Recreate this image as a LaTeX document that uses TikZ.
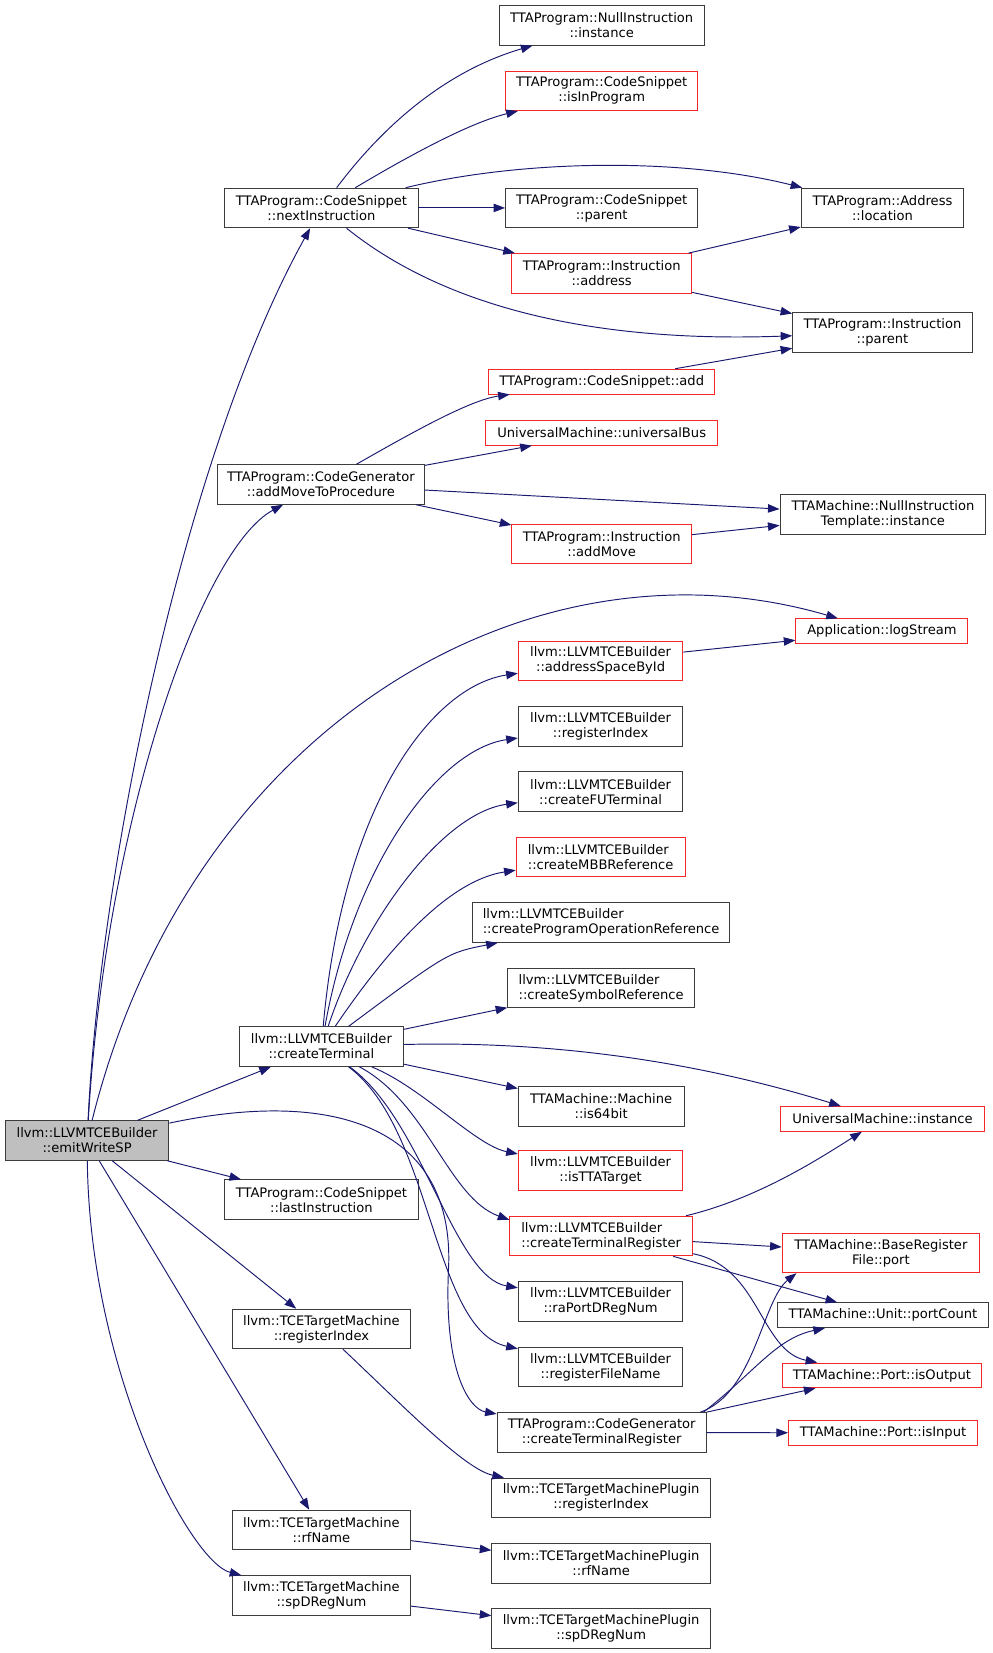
\documentclass[tikz,border=0pt]{standalone}
\usepackage{fontspec}
\setmainfont{DejaVu Sans}
\usetikzlibrary{arrows.meta}

\definecolor{edgeblue}{RGB}{25,25,112}
\definecolor{boxred}{RGB}{245,40,40}
\definecolor{boxgrey}{RGB}{60,60,60}
\definecolor{rootgrey}{RGB}{191,191,191}

\tikzset{
  fn/.style={draw=boxgrey, line width=0.9pt, fill=white, inner sep=0pt,
    minimum height=37.5pt, align=center, font=\fontsize{12.4}{14.2}\selectfont},
  fnred/.style={fn, draw=boxred},
  fnroot/.style={fn, fill=rootgrey},
  one/.style={minimum height=23.5pt},
  lft/.style={align=left},
  call/.style={draw=edgeblue, line width=0.9pt, -{Triangle[length=11pt,width=8pt]}}
}

\begin{document}
\begin{tikzpicture}[x=1pt,y=-1pt]

\pgfmathsetmacro{\colA}{304.5}
\pgfmathsetmacro{\colB}{569.5}
\pgfmathsetmacro{\colC}{836}

\useasboundingbox[fill=white] (0,0) rectangle (940,1566);

% caller
\node[fnroot, minimum width=155pt] (emit) at (82.5,1080.5) {llvm::LLVMTCEBuilder\\::emitWriteSP};

% first level
\node[fn, minimum width=183pt] (next) at (\colA,197) {TTAProgram::CodeSnippet\\::nextInstruction};
\node[fn, minimum width=196pt] (addMTP) at (304,459) {TTAProgram::CodeGenerator\\::addMoveToProcedure};
\node[fn, minimum width=155pt] (cterm) at (\colA,991.5) {llvm::LLVMTCEBuilder\\::createTerminal};
\node[fn, minimum width=183pt] (last) at (\colA,1136.5) {TTAProgram::CodeSnippet\\::lastInstruction};
\node[fn, minimum width=169pt] (tceRI) at (\colA,1259) {llvm::TCETargetMachine\\::registerIndex};
\node[fn, minimum width=169pt] (tceRF) at (\colA,1449.5) {llvm::TCETargetMachine\\::rfName};
\node[fn, minimum width=169pt] (tceSP) at (\colA,1511.5) {llvm::TCETargetMachine\\::spDRegNum};

% second level
\node[fn, minimum width=194pt] (nullInst) at (570,24) {TTAProgram::NullInstruction\\::instance};
\node[fnred, minimum width=182pt] (isInProg) at (570,86) {TTAProgram::CodeSnippet\\::isInProgram};
\node[fn, minimum width=182pt] (csParent) at (570,197) {TTAProgram::CodeSnippet\\::parent};
\node[fnred, minimum width=170pt] (instAddr) at (570,259) {TTAProgram::Instruction\\::address};
\node[fnred, one, minimum width=214pt] (csAdd) at (570,361.5) {TTAProgram::CodeSnippet::add};
\node[fnred, one, minimum width=220pt] (uBus) at (570,410) {UniversalMachine::universalBus};
\node[fnred, minimum width=170pt] (addMove) at (570,515.5) {TTAProgram::Instruction\\::addMove};
\node[fnred, minimum width=156pt] (asById) at (569,626) {llvm::LLVMTCEBuilder\\::addressSpaceById};
\node[fn, minimum width=156pt] (llvmRI) at (569,688) {llvm::LLVMTCEBuilder\\::registerIndex};
\node[fn, minimum width=156pt] (fuTerm) at (569,750) {llvm::LLVMTCEBuilder\\::createFUTerminal};
\node[fnred, lft, minimum width=160pt] (mbbRef) at (569,812) {llvm::LLVMTCEBuilder\\::createMBBReference};
\node[fn, lft, minimum width=243pt] (poRef) at (\colB,874) {llvm::LLVMTCEBuilder\\::createProgramOperationReference};
\node[fn, lft, minimum width=177pt] (symRef) at (\colB,936) {llvm::LLVMTCEBuilder\\::createSymbolReference};
\node[fn, minimum width=157pt] (is64) at (\colB,1048) {TTAMachine::Machine\\::is64bit};
\node[fnred, minimum width=156pt] (isTTA) at (569,1109) {llvm::LLVMTCEBuilder\\::isTTATarget};
\node[fnred, lft, minimum width=173pt] (ctReg) at (\colB,1171) {llvm::LLVMTCEBuilder\\::createTerminalRegister};
\node[fn, minimum width=156pt] (raPort) at (569,1233) {llvm::LLVMTCEBuilder\\::raPortDRegNum};
\node[fn, minimum width=156pt] (rfFile) at (569,1295) {llvm::LLVMTCEBuilder\\::registerFileName};
\node[fn, minimum width=198pt] (cgReg) at (570,1357) {TTAProgram::CodeGenerator\\::createTerminalRegister};
\node[fn, minimum width=207pt] (plRI) at (\colB,1419) {llvm::TCETargetMachinePlugin\\::registerIndex};
\node[fn, minimum width=207pt] (plRF) at (\colB,1481) {llvm::TCETargetMachinePlugin\\::rfName};
\node[fn, minimum width=207pt] (plSP) at (\colB,1543) {llvm::TCETargetMachinePlugin\\::spDRegNum};

% third level
\node[fn, minimum width=154pt] (addrLoc) at (\colC,197) {TTAProgram::Address\\::location};
\node[fn, minimum width=170pt] (instParent) at (\colC,315) {TTAProgram::Instruction\\::parent};
\node[fn, minimum width=195pt] (nitInst) at (836.5,487.5) {TTAMachine::NullInstruction\\Template::instance};
\node[fnred, one, minimum width=163pt] (logStream) at (835.5,598) {Application::logStream};
\node[fnred, one, minimum width=194pt] (umInst) at (\colC,1060) {UniversalMachine::instance};
\node[fnred, minimum width=187pt] (brfPort) at (834.5,1187) {TTAMachine::BaseRegister\\File::port};
\node[fn, one, minimum width=199pt] (portCount) at (836.5,1246) {TTAMachine::Unit::portCount};
\node[fnred, one, minimum width=189pt] (isOut) at (835.5,1303) {TTAMachine::Port::isOutput};
\node[fnred, one, minimum width=179pt] (isIn) at (836.5,1357.5) {TTAMachine::Port::isInput};

% calls of emitWriteSP
\draw[call] (emit) .. controls (95,820) and (175,430) .. (next);
\draw[call] (emit) .. controls (100,780) and (190,520) .. (addMTP);
\draw[call] (emit) .. controls (180,690) and (500,500) .. (logStream);
\foreach \t in {cterm,last,tceRI,tceRF}
  \draw[call] (emit) -- (\t);
\draw[call] (emit) .. controls (85,1300) and (180,1480) .. (tceSP);
\draw[call] (emit) .. controls (320,1030) and (430,1070) .. (425,1200)
  .. controls (420,1300) and (445,1335) .. (cgReg);

% calls of nextInstruction
\draw[call] (next) .. controls (370,110) and (430,65) .. (nullInst);
\draw[call] (next) .. controls (400,140) and (450,115) .. (isInProg);
\draw[call] (next) .. controls (500,150) and (650,150) .. (addrLoc);
\foreach \t in {csParent,instAddr}
  \draw[call] (next) -- (\t);
\draw[call] (next) .. controls (420,290) and (560,325) .. (instParent);
\foreach \s/\t in {instAddr/addrLoc,instAddr/instParent,csAdd/instParent}
  \draw[call] (\s) -- (\t);

% calls of addMoveToProcedure
\draw[call] (addMTP) .. controls (390,410) and (445,379) .. (csAdd);
\foreach \t in {uBus,nitInst,addMove}
  \draw[call] (addMTP) -- (\t);
\draw[call] (addMove) -- (nitInst);

% calls of createTerminal
\draw[call] (cterm) .. controls (325,760) and (410,650) .. (asById);
\draw[call] (cterm) .. controls (335,820) and (415,710) .. (llvmRI);
\draw[call] (cterm) .. controls (345,870) and (420,770) .. (fuTerm);
\draw[call] (cterm) .. controls (360,910) and (420,835) .. (mbbRef);
\draw[call] (cterm) .. controls (424,902.5) and (424,902.5) .. (poRef);
\foreach \t in {symRef,is64}
  \draw[call] (cterm) -- (\t);
\draw[call] (cterm) .. controls (560,985) and (700,1018) .. (umInst);
\draw[call] (cterm) .. controls (400,1030) and (450,1085) .. (isTTA);
\draw[call] (cterm) .. controls (405,1045) and (425,1135) .. (ctReg.170);
\draw[call] (cterm) .. controls (400,1060) and (430,1210) .. (raPort);
\draw[call] (cterm) .. controls (410,1070) and (410,1260) .. (rfFile);
\draw[call] (asById) -- (logStream);

% calls of the two createTerminalRegister
\draw[call] (ctReg) .. controls (720,1135) and (780,1095) .. (umInst);
\foreach \t in {brfPort,portCount}
  \draw[call] (ctReg) -- (\t);
\draw[call] (ctReg) .. controls (720,1200) and (720,1280) .. (isOut);
\draw[call] ([xshift=-6pt]cgReg.north east) .. controls (715,1320) and (722,1232) .. ([xshift=14pt]brfPort.south west);
\draw[call] ([xshift=-3pt]cgReg.north east) .. controls (715,1300) and (735,1268) .. ([xshift=45pt]portCount.south west);
\draw[call] (cgReg.north east) -- ([xshift=32pt]isOut.south west);
\draw[call] (cgReg) -- (isIn);

% TCETargetMachine to plugin
\draw[call] (tceRI) .. controls (380,1330) and (440,1392) .. (plRI);
\foreach \s/\t in {tceRF/plRF,tceSP/plSP}
  \draw[call] (\s) -- (\t);

\end{tikzpicture}
\end{document}
